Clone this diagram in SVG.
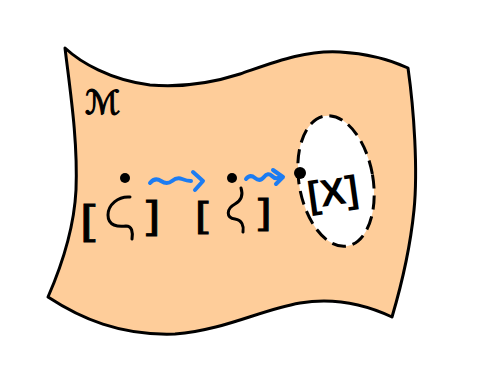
<svg xmlns="http://www.w3.org/2000/svg" width="494" height="375" viewBox="0 0 494 375">
<style>
.ink{fill:none;stroke:#000;stroke-width:3;stroke-linecap:round;stroke-linejoin:round}
.dot{fill:#000}
.br{font-family:"Liberation Sans",Arial,sans-serif;fill:#000;stroke:#000;stroke-width:0.8}
.bx{font-family:"Liberation Sans",Arial,sans-serif;fill:#000;font-weight:bold}
.conn{fill:none;stroke:#1c7cf2;stroke-width:4;stroke-linecap:round;stroke-linejoin:round}
</style>
<rect width="494" height="375" fill="#fff"/>
<g id="sheet">
<path d="M65,48 C80,62 110,80 150,85 C185,88 215,82 240,74 C275,62 305,50 340,52 C375,54 395,62 408,68 C414,110 418,170 414,210 C410,250 400,290 392,317 C360,302 330,298 300,303 C260,310 225,330 175,334 C120,336 80,318 48,297 C62,265 74,230 76,190 C78,140 70,90 65,48 Z" fill="#fecd9a" stroke="#000" stroke-width="3" stroke-linejoin="round"/>
<text x="85" y="114" font-size="33" font-family="DejaVu Sans,sans-serif" fill="#000" stroke="#000" stroke-width="1.2">ℳ</text>
</g>
<g id="hole">
<ellipse cx="336" cy="181" rx="37" ry="66" transform="rotate(-10 336 181)" fill="#fff" stroke="#000" stroke-width="3" stroke-dasharray="14 7"/>
<text class="bx" x="333" y="205" font-size="38" text-anchor="middle" transform="rotate(-8 333 193)">[X]</text>
</g>
<g id="point1">
<circle class="dot" cx="125" cy="178" r="5"/>
<text class="br" x="0" y="0" font-size="41" transform="translate(80 234) scale(1.35 1)">[</text>
<path class="ink" d="M130,197 C118,196 108,205 108,215 C108,226 118,227 126,226 C132,226 133,232 132,239"/>
<text class="br" x="0" y="0" font-size="38" transform="translate(146 228) scale(1.35 1)">]</text>
</g>
<g id="point2">
<circle class="dot" cx="232" cy="178" r="5"/>
<text class="br" x="0" y="0" font-size="36" transform="translate(195 227) scale(1.35 1)">[</text>
<path class="ink" d="M241,188 C243,194 242,200 235,204 C226,209 226,218 235,219 C242,220 244,226 243,232"/>
<text class="br" x="0" y="0" font-size="36" transform="translate(258 224) scale(1.35 1)">]</text>
</g>
<g id="point3">
<circle class="dot" cx="300" cy="173" r="6"/>
</g>
<g id="connectors">
<path class="conn" d="M150,183 Q155,177 161,181 T172,181 T182,179 T191,181"/>
<path class="conn" d="M193,172 L203,181 L195,190"/>
<path class="conn" d="M246,179 Q250,174 255,178 T264,177 T272,176 T280,177"/>
<path class="conn" d="M273,170 L283,177 L276,184"/>
</g>
</svg>
